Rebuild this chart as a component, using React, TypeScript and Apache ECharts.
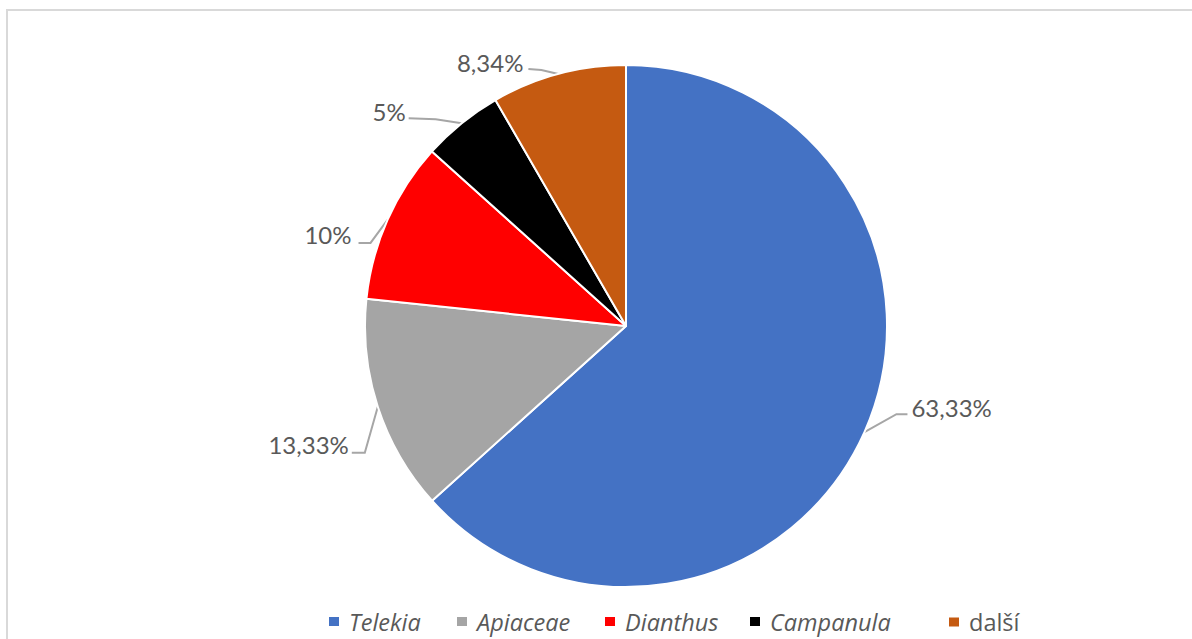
import React, { useEffect, useRef } from "react";
import * as echarts from "echarts";

const categories = ["Telekia", "Apiaceae", "Dianthus", "Campanula", "další"];
const values = [63.33, 13.33, 10, 5, 8.34];
const italicNames = ["Telekia", "Apiaceae", "Dianthus", "Campanula"];
const colors = ["#4472C4", "#A5A5A5", "#FF0000", "#000000", "#C55A11"];

// label layout offsets relative to the slice's outer mid-point: [bendDx, bendDy, endDx, endDy, textDx, textDy, align]
const labelOffsets: [number, number, number, number, number, number, string][] = [
  [32, -18, 43, -18, 47, -25, "left"],
  [-13, 46, -26, 46, -29, 38, "right"],
  [-17, 23, -29, 23, -36, 15, "right"],
  [-26, -4, -53, -5, -56, -12, "right"],
  [-17, -4, -30, -5, -35, -11, "right"],
];
// left position of each legend entry
const legendLefts = [327, 455, 603, 748, 947];

const CX = 626;
const CY = 326;
const R = 261;

export default function App() {
  const ref = useRef<HTMLDivElement>(null);
  useEffect(() => {
    if (!ref.current) return;
    const chart = echarts.init(ref.current, null, { renderer: "svg" });
    const total = values.reduce((a, b) => a + b, 0);
    const cum: number[] = [];
    let acc = 0;
    values.forEach((v) => {
      cum.push(acc + v / 2);
      acc += v;
    });
    const fmt = (v: number) => String(v).replace(".", ",") + "%";
    chart.setOption({
      animation: false,
      graphic: [
        {
          type: "rect",
          shape: { x: 7, y: 10, width: 1400, height: 800 },
          style: { fill: "none", stroke: "#D9D9D9", lineWidth: 2 },
          silent: true,
        },
      ],
      legend: categories.map((c, i) => ({
        left: legendLefts[i],
        top: 610,
        padding: 0,
        icon: "rect",
        itemWidth: 12,
        itemHeight: 11,
        selectedMode: false,
        textStyle: {
          fontFamily: "Open Sans",
          fontSize: 23.5,
          color: "#595959",
          fontStyle: italicNames.includes(c) ? "italic" : "normal",
          padding: [0, 0, 0, 4],
        },
        data: [c],
      })),
      series: [
        {
          type: "pie",
          center: [CX, CY],
          radius: R,
          startAngle: 90,
          clockwise: true,
          itemStyle: { borderColor: "#FFFFFF", borderWidth: 2 },
          label: {
            show: true,
            position: "outside",
            fontFamily: "Lato",
            fontSize: 24,
            color: "#595959",
            formatter: (p: any) => fmt(p.value),
          },
          labelLine: {
            show: true,
            lineStyle: { color: "#A6A6A6", width: 2 },
          },
          labelLayout: (params: any) => {
            const i = params.dataIndex;
            const mid = ((90 - (cum[i] / total) * 360) * Math.PI) / 180;
            const ax = CX + R * Math.cos(mid);
            const ay = CY - R * Math.sin(mid);
            const o = labelOffsets[i];
            return {
              x: ax + o[4],
              y: ay + o[5],
              align: o[6],
              verticalAlign: "middle",
              labelLinePoints: [
                [ax, ay],
                [ax + o[0], ay + o[1]],
                [ax + o[2], ay + o[3]],
              ],
            };
          },
          data: categories.map((c, i) => ({
            name: c,
            value: values[i],
            itemStyle: { color: colors[i] },
          })),
        },
      ],
    });
    return () => chart.dispose();
  }, []);
  return (
    <div
      ref={ref}
      style={{ position: "fixed", left: 0, top: 0, width: 1192, height: 639, background: "#FFFFFF" }}
    />
  );
}
